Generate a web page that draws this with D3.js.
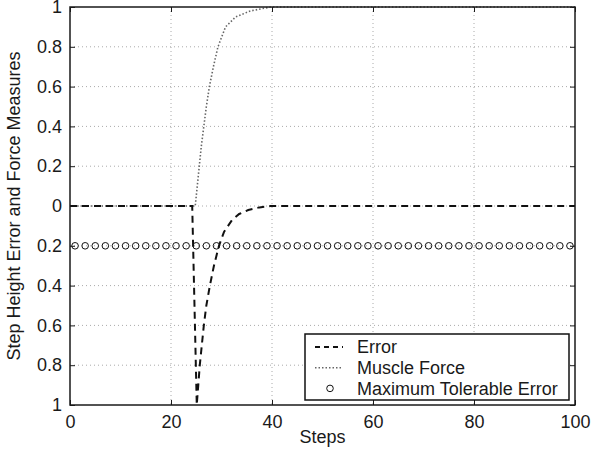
<!DOCTYPE html>
<html>
<head>
<meta charset="utf-8">
<script src="https://cdn.jsdelivr.net/npm/d3@7"></script>
<style>
  body { margin: 0; background: #fff; }
  text { font-family: "Liberation Sans", Arial, sans-serif; fill: #1a1a1a; }
</style>
</head>
<body>
<script>
// valores
var xTicks = [0, 20, 40, 60, 80, 100];
var yTicks = [-1, -0.8, -0.6, -0.4, -0.2, 0, 0.2, 0.4, 0.6, 0.8, 1];
var yTickLabels = ["1", "0.8", "0.6", "0.4", "0.2", "0", "0.2", "0.4", "0.6", "0.8", "1"];

var errorSteps  = [0, 24.2, 25.1, 25.4, 25.7, 26.1, 26.5, 27.0, 27.7, 28.5, 29.5, 30.5, 32.1, 33.5, 35.3, 37.5, 39.7, 100];
var errorValues = [0, 0, -1, -0.9, -0.8, -0.7, -0.6, -0.5, -0.4, -0.3, -0.2, -0.13, -0.07, -0.04, -0.02, -0.007, 0, 0];

var forceSteps  = [0, 24.8, 25.2, 25.6, 26.0, 26.5, 27.0, 27.6, 28.4, 29.3, 30.8, 32.8, 35.7, 39.7, 100];
var forceValues = [0, 0, 0.1, 0.2, 0.3, 0.4, 0.5, 0.6, 0.7, 0.8, 0.9, 0.95, 0.98, 1, 1];

var toleranceSteps = [1, 3, 5, 7, 9, 11, 13, 15, 17, 19, 21, 23, 25, 27, 29, 31, 33, 35, 37, 39,
  41, 43, 45, 47, 49, 51, 53, 55, 57, 59, 61, 63, 65, 67, 69, 71, 73, 75, 77, 79,
  81, 83, 85, 87, 89, 91, 93, 95, 97, 99];
var toleranceValues = [-0.2, -0.2, -0.2, -0.2, -0.2, -0.2, -0.2, -0.2, -0.2, -0.2,
  -0.2, -0.2, -0.2, -0.2, -0.2, -0.2, -0.2, -0.2, -0.2, -0.2,
  -0.2, -0.2, -0.2, -0.2, -0.2, -0.2, -0.2, -0.2, -0.2, -0.2,
  -0.2, -0.2, -0.2, -0.2, -0.2, -0.2, -0.2, -0.2, -0.2, -0.2,
  -0.2, -0.2, -0.2, -0.2, -0.2, -0.2, -0.2, -0.2, -0.2, -0.2];

var legendLabels = ["Error", "Muscle Force", "Maximum Tolerable Error"];

var margin = {top: 7, right: 17, bottom: 47, left: 70},
    width = 592 - margin.left - margin.right,
    height = 452 - margin.top - margin.bottom;

var svg = d3.select("body").append("svg")
    .attr("width", 592)
    .attr("height", 452)
  .append("g")
    .attr("transform", "translate(" + margin.left + "," + margin.top + ")");

var x = d3.scaleLinear().domain([0, 100]).range([0, width]);
var y = d3.scaleLinear().domain([-1, 1]).range([height, 0]);

// rejilla punteada
svg.append("g").selectAll("line")
    .data(xTicks.slice(1, -1))
  .enter().append("line")
    .attr("x1", function(d) { return x(d); })
    .attr("x2", function(d) { return x(d); })
    .attr("y1", 0).attr("y2", height)
    .style("stroke", "#aaa").style("stroke-dasharray", "1,3");

svg.append("g").selectAll("line")
    .data(yTicks.slice(1, -1))
  .enter().append("line")
    .attr("y1", function(d) { return y(d); })
    .attr("y2", function(d) { return y(d); })
    .attr("x1", 0).attr("x2", width)
    .style("stroke", "#aaa").style("stroke-dasharray", "1,3");

// ejes (ticks hacia adentro)
function estiloEje(g) {
  g.select(".domain").remove();
  g.selectAll(".tick line").style("stroke", "#1a1a1a");
  g.selectAll(".tick text").style("font-size", "18px").style("fill", "#1a1a1a");
}

svg.append("g")
    .attr("transform", "translate(0," + height + ")")
    .call(d3.axisBottom(x).tickValues(xTicks).tickSizeInner(-5).tickSizeOuter(0).tickPadding(10))
    .call(estiloEje);

svg.append("g")
    .call(d3.axisTop(x).tickValues(xTicks).tickSizeInner(-5).tickSizeOuter(0).tickFormat(""))
    .call(estiloEje);

svg.append("g")
    .call(d3.axisLeft(y).tickValues(yTicks).tickSizeInner(-5).tickSizeOuter(0).tickPadding(8)
      .tickFormat(function(d, i) { return yTickLabels[i]; }))
    .call(estiloEje);

svg.append("g")
    .attr("transform", "translate(" + width + ",0)")
    .call(d3.axisRight(y).tickValues(yTicks).tickSizeInner(-5).tickSizeOuter(0).tickFormat(""))
    .call(estiloEje);

// series
var lineaError = d3.line()
    .x(function(d, i) { return x(errorSteps[i]); })
    .y(function(d) { return y(d); });

var lineaFuerza = d3.line()
    .x(function(d, i) { return x(forceSteps[i]); })
    .y(function(d) { return y(d); });

svg.append("path")
    .datum(forceValues)
    .attr("d", lineaFuerza)
    .style("fill", "none")
    .style("stroke", "#666")
    .style("stroke-width", 1.6)
    .style("stroke-dasharray", "1.5,2");

svg.append("path")
    .datum(errorValues)
    .attr("d", lineaError)
    .style("fill", "none")
    .style("stroke", "#111")
    .style("stroke-width", 2)
    .style("stroke-dasharray", "7,5");

svg.append("g").selectAll("circle")
    .data(toleranceValues)
  .enter().append("circle")
    .attr("cx", function(d, i) { return x(toleranceSteps[i]); })
    .attr("cy", function(d) { return y(d); })
    .attr("r", 3.3)
    .style("fill", "none")
    .style("stroke", "#111")
    .style("stroke-width", 1);

// marco
svg.append("rect")
    .attr("width", width).attr("height", height)
    .style("fill", "none").style("stroke", "#1a1a1a").style("stroke-width", 1.5);

// titulos de ejes
svg.append("text")
    .attr("x", width / 2).attr("y", height + 38)
    .attr("text-anchor", "middle")
    .style("font-size", "18px")
    .text("Steps");

svg.append("text")
    .attr("transform", "translate(" + (20 - margin.left) + "," + (height / 2) + ") rotate(-90)")
    .attr("text-anchor", "middle")
    .style("font-size", "18px")
    .text("Step Height Error and Force Measures");

// leyenda
var leyenda = svg.append("g")
    .attr("transform", "translate(" + (305 - margin.left) + "," + (334 - margin.top) + ")");

leyenda.append("rect")
    .attr("width", 264).attr("height", 66)
    .style("fill", "#fff").style("stroke", "#111").style("stroke-width", 1.5);

leyenda.selectAll("text")
    .data(legendLabels)
  .enter().append("text")
    .attr("x", 52)
    .attr("y", function(d, i) { return 13 + i * 20.7; })
    .attr("dy", "0.35em")
    .style("font-size", "18px")
    .text(function(d) { return d; });

leyenda.append("line")
    .attr("x1", 10).attr("x2", 38).attr("y1", 13).attr("y2", 13)
    .style("stroke", "#111").style("stroke-width", 2).style("stroke-dasharray", "5,4");

leyenda.append("line")
    .attr("x1", 10).attr("x2", 38).attr("y1", 33.7).attr("y2", 33.7)
    .style("stroke", "#666").style("stroke-width", 1.6).style("stroke-dasharray", "1.5,2");

leyenda.append("circle")
    .attr("cx", 25).attr("cy", 54.4).attr("r", 3.3)
    .style("fill", "none").style("stroke", "#111");
</script>
</body>
</html>
